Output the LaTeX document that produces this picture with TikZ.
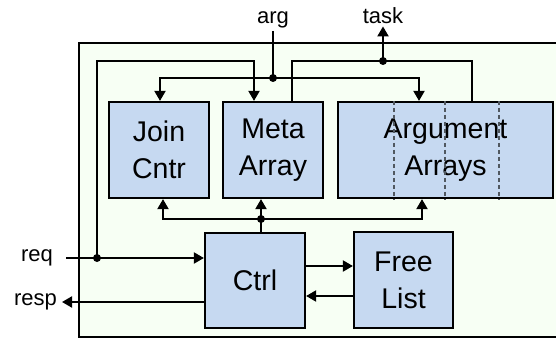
\documentclass[tikz,border=0pt]{standalone}
\usepackage{fontspec}
\setmainfont{Liberation Sans}
\usetikzlibrary{arrows.meta,positioning}
\definecolor{blkfill}{RGB}{198,217,241}
\definecolor{outerfill}{RGB}{247,255,244}
\definecolor{dashgray}{RGB}{80,88,96}
\begin{document}
\begin{tikzpicture}[x=1pt,y=1pt,
  blk/.style={shape=rectangle,draw,line width=2.2pt,fill=blkfill,inner sep=0pt,
    align=center,font=\fontsize{28.5}{37}\selectfont},
  lbl/.style={inner sep=2pt,font=\fontsize{22}{26}\selectfont},
  wire/.style={line width=2pt},
  arr/.style={wire,-{Triangle[length=10pt,width=11pt]}},
  slot/.style={dashgray,line width=1.3pt,dash pattern=on 4pt off 3pt}]
\clip (0,0) rectangle (556,341);
\draw[line width=2.2pt,fill=outerfill] (79,4) rectangle (570,298);

\node(join) at (159,191)[blk,minimum width=100pt,minimum height=96pt]  {Join\\Cntr};
\node(meta) at (273,191)[blk,minimum width=100pt,minimum height=96pt]  {Meta\\Array};
\node(args) at (445.5,191)[blk,minimum width=215pt,minimum height=96pt]{Argument\\Arrays};
\node(ctrl) at (255,60.5)[blk,minimum width=100pt,minimum height=95pt] {Ctrl};
\node(free) at (403.5,61)[blk,minimum width=99pt,minimum height=96pt]  {Free\\List};

% slots of the argument arrays
\foreach \xx in {394,445,499}
  \draw[slot] (\xx,0 |- args.north) -- (\xx,0 |- args.south);

\node(arglbl)  at (273,317)[lbl,anchor=base] {arg};
\node(tasklbl) at (383,317)[lbl,anchor=base] {task};

\coordinate(reqin)     at (66,83);
\coordinate(reqsplit)  at (97,83);
\coordinate(respout)   at (62,39);
\coordinate(argsplit)  at (273,263);
\coordinate(tasksplit) at (383,280);
\coordinate(ctrlsplit) at (261,122);

\node(req)  [lbl,inner sep=0pt,left=13pt of reqin]  {req};
\node(resp) [lbl,inner sep=0pt,left=5pt of respout] {resp};

% request in, response out
\draw[arr] (reqin) -- (ctrl.west |- reqin);
\draw[arr] (reqsplit) -- (reqsplit |- tasksplit) -| ([xshift=-19pt]meta.north);
\draw[arr] (ctrl.west |- respout) -- (respout);

% argument bus
\draw[wire] (arglbl.south) -- (argsplit);
\draw[arr] (argsplit) -| ([xshift=1pt]join.north);
\draw[arr] (argsplit) -| ([xshift=-26.5pt]args.north);

% task bus
\draw[arr] (tasksplit) -- (tasklbl.south);
\draw[wire] ([xshift=19pt]meta.north) |- (tasksplit) -| ([xshift=26.5pt]args.north);

% control bus
\draw[arr] (ctrlsplit |- ctrl.north) -- (ctrlsplit |- meta.south);
\draw[arr] (ctrlsplit) -| ([xshift=4pt]join.south);
\draw[arr] (ctrlsplit) -| ([xshift=-23.5pt]args.south);

% free list
\draw[arr] ([yshift=14.5pt]ctrl.east) -- ([yshift=14pt]free.west);
\draw[arr] ([yshift=-16pt]free.west) -- ([yshift=-15.5pt]ctrl.east);

\foreach \pt in {reqsplit,argsplit,tasksplit,ctrlsplit}
  \fill (\pt) circle[radius=4pt];
\end{tikzpicture}
\end{document}
